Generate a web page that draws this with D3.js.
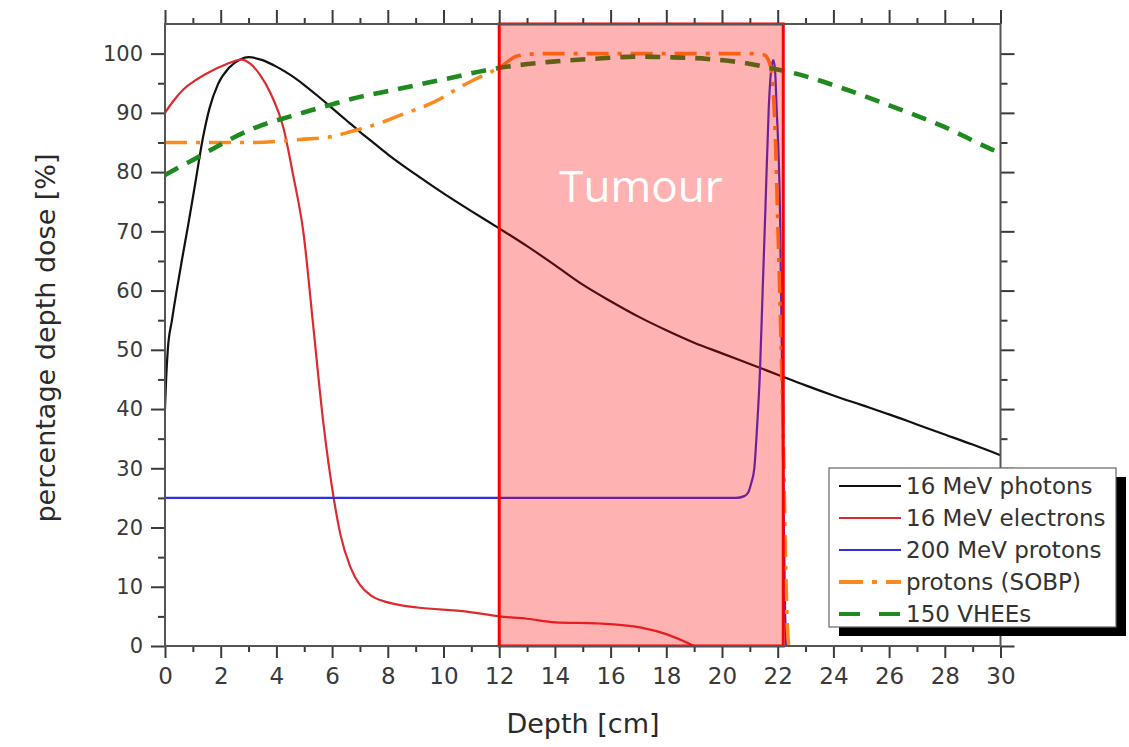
<!DOCTYPE html>
<html>
<head>
<meta charset="utf-8">
<script src="https://cdn.jsdelivr.net/npm/d3@7"></script>
<style>
  html, body { margin: 0; padding: 0; background: #fff; }
  svg { display: block; }
</style>
</head>
<body>
<svg id="chart" width="1129" height="747"></svg>
<script>
// ---------------- DATA ----------------
const xTicksMajor = [0, 2, 4, 6, 8, 10, 12, 14, 16, 18, 20, 22, 24, 26, 28, 30];
const yTicksMajor = [0, 10, 20, 30, 40, 50, 60, 70, 80, 90, 100];

const seriesNames = ["16 MeV photons", "16 MeV electrons", "200 MeV protons", "protons (SOBP)", "150 VHEEs"];

const photons16 = [
  [0, 40], [0.04, 45], [0.1, 50], [0.25, 55], [0.42, 60], [0.62, 65.5], [0.83, 71], [1.1, 78.5],
  [1.35, 85.5], [1.6, 90.8], [1.9, 94.8], [2.3, 97.6], [2.7, 99.0], [3.0, 99.4],
  [3.5, 98.9], [4, 97.8], [4.5, 96.4], [5, 94.7], [5.5, 92.8], [6, 90.8], [6.5, 88.8], [7, 86.8],
  [7.5, 84.9], [8, 83.0], [9, 79.6], [10, 76.4], [11, 73.4], [12, 70.5], [13, 67.5], [14, 64.3],
  [15, 61.0], [16, 58.2], [17, 55.6], [18, 53.3], [19, 51.2], [20, 49.4], [21, 47.6], [22, 45.8],
  [23, 44.0], [24, 42.3], [25, 40.7], [26, 39.1], [27, 37.4], [28, 35.7], [29, 34.0], [30, 32.2]
];

const electrons16 = [
  [0, 90], [0.3, 92], [0.65, 93.9], [1.0, 95.2], [1.6, 96.9], [2.2, 98.2], [2.75, 99], [3.06, 98.3],
  [3.4, 96.5], [3.78, 93.4], [4.26, 87.3], [4.6, 79.5], [4.97, 69.8], [5.33, 53.7], [5.69, 37.5],
  [6.05, 25.2], [6.3, 18.8], [6.65, 13.4], [7.0, 10.3], [7.4, 8.5], [7.97, 7.4], [8.45, 6.9],
  [9.05, 6.5], [10.85, 5.8], [12.0, 5.0], [13.0, 4.6], [14.0, 4.0], [15.6, 3.8], [17.1, 3.1],
  [18.0, 2.0], [19.0, 0]
];

const protons200 = [
  [0, 25], [20.5, 25], [20.8, 25.3], [20.95, 26], [21.05, 27.5], [21.16, 30], [21.26, 37],
  [21.36, 46], [21.46, 60], [21.56, 74], [21.68, 91], [21.76, 97], [21.84, 98.9], [21.9, 97.5],
  [21.96, 91], [22.08, 74], [22.16, 46], [22.22, 20], [22.27, 5], [22.3, 0]
];

const protonsSOBP = [
  [0, 85], [2, 85], [3.06, 85], [4.86, 85.5], [6.0, 86], [6.65, 86.8], [7.85, 88.5], [8.5, 89.7],
  [9.65, 91.8], [10.85, 95], [11.5, 96.5], [12.0, 97.6], [12.65, 99.6], [13.5, 100], [15, 100],
  [17, 100], [19, 100], [21, 100], [21.5, 99.8], [21.7, 98.5], [21.8, 96], [21.9, 88], [22.0, 72],
  [22.1, 55], [22.2, 35], [22.28, 15], [22.35, 3], [22.4, 0]
];

const vhee150 = [
  [0, 79.5], [0.5, 80.8], [1.14, 82.4], [2.45, 85.8], [3.3, 87.6], [4.5, 89.4], [6.05, 91.5],
  [6.65, 92.3], [8.45, 94.1], [9.05, 94.7], [10.25, 95.9], [12.0, 97.6], [13.8, 98.6], [15.3, 99.1],
  [17.0, 99.5], [18.0, 99.4], [19.5, 99.1], [20.7, 98.5], [21.9, 97.4], [22.5, 96.8], [24.3, 94.2],
  [26.1, 91.1], [27.9, 87.8], [29.7, 83.8], [30.0, 83.2]
];

const tumourRange = [12, 22.2];
const tumourLabel = "Tumour";

// ---------------- LAYOUT ----------------
const svg = d3.select("#chart");
const L = 165, R = 1000.5, T = 24, B = 646;
const x = d3.scaleLinear().domain([0, 30]).range([L, R]);
const y = d3.scaleLinear().domain([0, 105]).range([B, T]);

const fontMain = "'DejaVu Sans', sans-serif";
const tickColor = "#3a3a3a";

// ---------------- LINES ----------------
const line = d3.line().x(d => x(d[0])).y(d => y(d[1])).curve(d3.curveMonotoneX);

const styles = [
  { data: photons16, color: "#111111", width: 2.2, dash: null },
  { data: electrons16, color: "#dd2a2e", width: 2.2, dash: null },
  { data: protons200, color: "#2f2fe0", width: 2.2, dash: null },
  { data: protonsSOBP, color: "#f98a1d", width: 3.6, dash: "22,9,4,9" },
  { data: vhee150, color: "#1f8a1f", width: 4.6, dash: "15,10" }
];

const gLines = svg.append("g");
styles.forEach(s => {
  gLines.append("path")
    .attr("d", line(s.data))
    .attr("fill", "none")
    .attr("stroke", s.color)
    .attr("stroke-width", s.width)
    .attr("stroke-dasharray", s.dash)
    .attr("stroke-linejoin", "round");
});

// ---------------- TUMOUR OVERLAY ----------------
svg.append("rect")
  .attr("x", x(tumourRange[0]))
  .attr("y", T)
  .attr("width", x(tumourRange[1]) - x(tumourRange[0]))
  .attr("height", B - T)
  .attr("fill", "rgba(255,0,0,0.3)")
  .attr("stroke", "#ff0000")
  .attr("stroke-width", 3);

svg.append("text")
  .attr("x", 641)
  .attr("y", 202)
  .attr("text-anchor", "middle")
  .attr("fill", "#ffffff")
  .attr("font-family", "'Open Sans', sans-serif")
  .attr("font-size", 44)
  .text(tumourLabel);

// ---------------- AXES ----------------
const xMinor = d3.range(0, 31, 1).filter(v => v % 2 !== 0);
const yMinor = d3.range(5, 105, 10);

function styleAxis(g) {
  g.select(".domain").remove();
  g.selectAll(".tick line").attr("stroke", tickColor).attr("stroke-width", 2);
  g.selectAll(".tick text").attr("fill", tickColor).attr("font-family", fontMain);
}

// bottom
const gB = svg.append("g").attr("transform", `translate(0,${B})`)
  .call(d3.axisBottom(x).tickValues(xTicksMajor).tickSize(12).tickPadding(10).tickFormat(d3.format("d")));
styleAxis(gB); gB.selectAll(".tick text").attr("font-size", 23);
const gBm = svg.append("g").attr("transform", `translate(0,${B})`)
  .call(d3.axisBottom(x).tickValues(xMinor).tickSize(6).tickFormat(""));
styleAxis(gBm);

// top
const gT = svg.append("g").attr("transform", `translate(0,${T})`)
  .call(d3.axisTop(x).tickValues(xTicksMajor).tickSize(14).tickFormat(""));
styleAxis(gT);
const gTm = svg.append("g").attr("transform", `translate(0,${T})`)
  .call(d3.axisTop(x).tickValues(xMinor).tickSize(6).tickFormat(""));
styleAxis(gTm);

// left
const gL = svg.append("g").attr("transform", `translate(${L},0)`)
  .call(d3.axisLeft(y).tickValues(yTicksMajor).tickSize(14).tickPadding(8).tickFormat(d3.format("d")));
styleAxis(gL); gL.selectAll(".tick text").attr("font-size", 21);
const gLm = svg.append("g").attr("transform", `translate(${L},0)`)
  .call(d3.axisLeft(y).tickValues(yMinor).tickSize(7).tickFormat(""));
styleAxis(gLm);

// right
const gR = svg.append("g").attr("transform", `translate(${R},0)`)
  .call(d3.axisRight(y).tickValues(yTicksMajor).tickSize(14).tickFormat(""));
styleAxis(gR);
const gRm = svg.append("g").attr("transform", `translate(${R},0)`)
  .call(d3.axisRight(y).tickValues(yMinor).tickSize(7).tickFormat(""));
styleAxis(gRm);

// frame
svg.append("rect")
  .attr("x", L).attr("y", T).attr("width", R - L).attr("height", B - T)
  .attr("fill", "none").attr("stroke", "#555").attr("stroke-width", 2);

// axis titles
svg.append("text")
  .attr("x", 583).attr("y", 733)
  .attr("text-anchor", "middle")
  .attr("fill", "#2a2a2a")
  .attr("font-family", fontMain)
  .attr("font-size", 27)
  .text("Depth [cm]");

svg.append("text")
  .attr("transform", "translate(55,338) rotate(-90)")
  .attr("text-anchor", "middle")
  .attr("fill", "#2a2a2a")
  .attr("font-family", fontMain)
  .attr("font-size", 27)
  .text("percentage depth dose [%]");

// ---------------- LEGEND ----------------
const lgX = 829, lgY = 468, lgW = 287, lgH = 159;
svg.append("rect").attr("x", lgX + 10).attr("y", lgY + 9).attr("width", lgW).attr("height", lgH).attr("fill", "#000");
svg.append("rect").attr("x", lgX).attr("y", lgY).attr("width", lgW).attr("height", lgH)
  .attr("fill", "#fff").attr("stroke", "#666").attr("stroke-width", 1.2);

const legendDash = [null, null, null, "24,9,5,9", "21,19"];
seriesNames.forEach((name, i) => {
  const cy = 486 + i * 32;
  svg.append("line")
    .attr("x1", 839).attr("x2", 901).attr("y1", cy).attr("y2", cy)
    .attr("stroke", styles[i].color)
    .attr("stroke-width", i >= 3 ? 4 : 2.2)
    .attr("stroke-dasharray", legendDash[i]);
  svg.append("text")
    .attr("x", 906).attr("y", cy)
    .attr("dy", "0.36em")
    .attr("fill", "#333")
    .attr("font-family", fontMain)
    .attr("font-size", 23)
    .text(name);
});
</script>
</body>
</html>
